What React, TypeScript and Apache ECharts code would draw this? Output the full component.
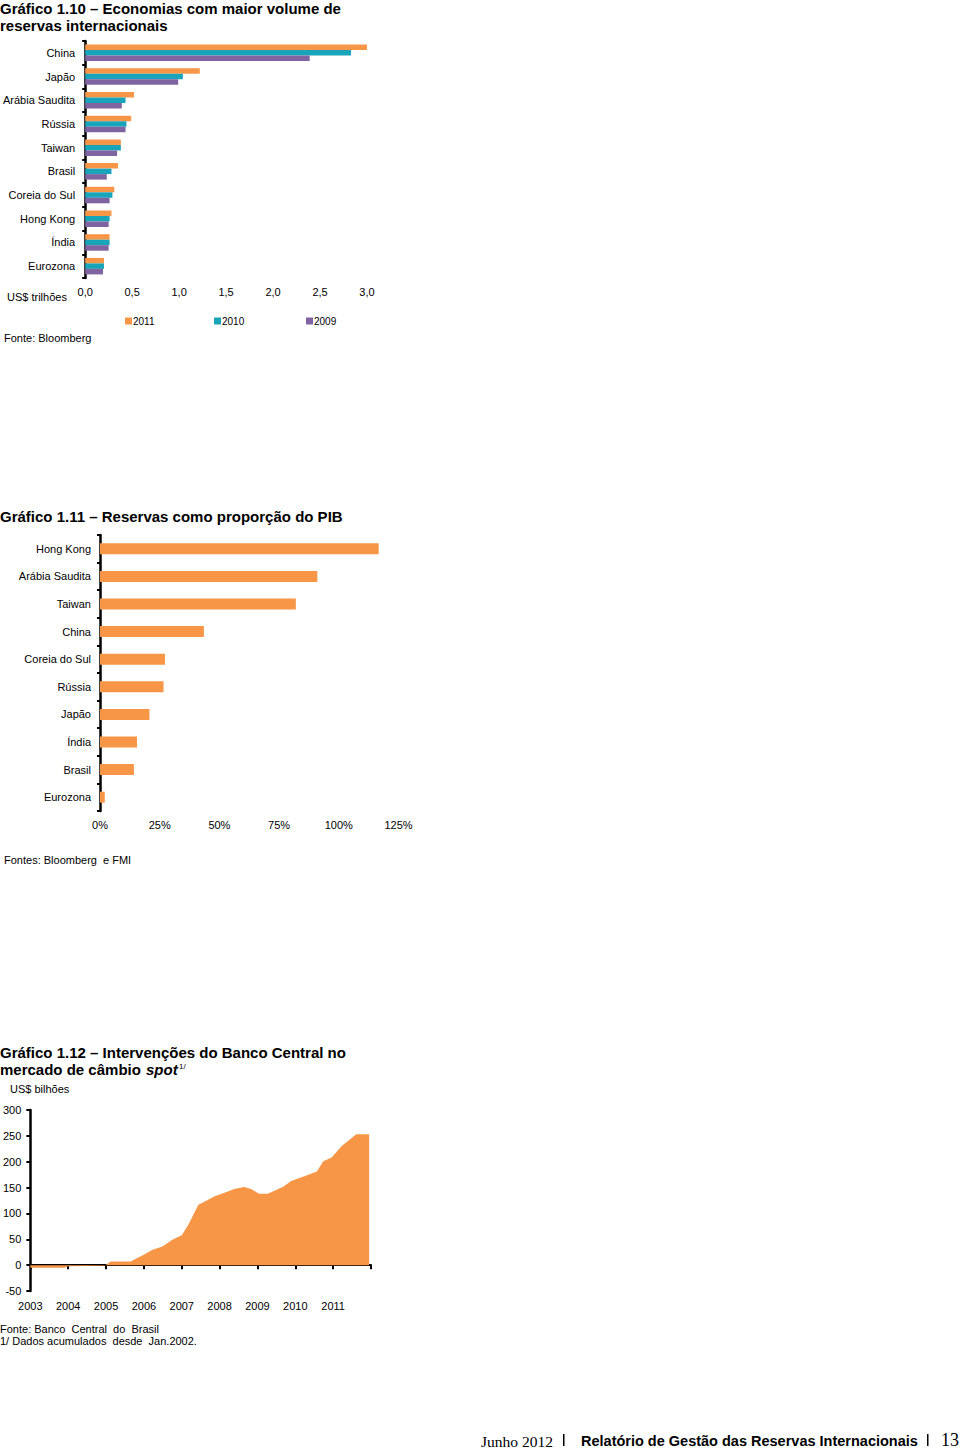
import { useEffect, useRef } from "react";
import * as echarts from "echarts";

// Gráfico 1.10 – reserves (US$ trillions)
const reserveCountries = ["China", "Japão", "Arábia Saudita", "Rússia", "Taiwan", "Brasil", "Coreia do Sul", "Hong Kong", "Índia", "Eurozona"];
const reserves2011 = [3.02, 1.22, 0.52, 0.49, 0.38, 0.35, 0.31, 0.28, 0.26, 0.2];
const reserves2010 = [2.83, 1.04, 0.43, 0.44, 0.38, 0.28, 0.29, 0.26, 0.26, 0.2];
const reserves2009 = [2.39, 0.99, 0.39, 0.43, 0.34, 0.23, 0.26, 0.25, 0.25, 0.19];
const reserveYears = ["2011", "2010", "2009"];

// Gráfico 1.11 – reserves as % of GDP
const gdpCountries = ["Hong Kong", "Arábia Saudita", "Taiwan", "China", "Coreia do Sul", "Rússia", "Japão", "Índia", "Brasil", "Eurozona"];
const gdpShare = [116.7, 91, 82, 43.5, 27.2, 26.6, 20.7, 15.5, 14.2, 2];

// Gráfico 1.12 – cumulative interventions (US$ billions)
const interventionDates = [2003.0, 2003.9, 2004.0, 2004.95, 2005.05, 2005.12, 2005.65, 2005.8, 2005.97, 2006.23, 2006.49, 2006.75, 2007.0, 2007.18, 2007.31, 2007.44, 2007.61, 2007.87, 2008.13, 2008.39, 2008.65, 2008.83, 2009.04, 2009.27, 2009.48, 2009.69, 2009.88, 2010.05, 2010.31, 2010.57, 2010.74, 2010.96, 2011.22, 2011.44, 2011.61, 2011.95];
const interventionValues = [-5, -5, -2, -1, 3, 7, 7, 13, 19, 30, 36, 49, 58, 79, 98, 117, 123, 133, 140, 147, 151, 147, 138, 138, 145, 152, 162, 167, 174, 181, 201, 208, 230, 243, 253, 253];
const yearTicks = ["2003", "2004", "2005", "2006", "2007", "2008", "2009", "2010", "2011"];

const ORANGE = "#F79646";
const TEAL = "#1AA4BA";
const PURPLE = "#8064A2";
const SANS = "'Liberation Sans', Arial, Helvetica, sans-serif";
const SERIF = "'Liberation Serif', 'Times New Roman', serif";

function txt(text: string, x: number, y: number, opts: any = {}) {
  return {
    type: "text",
    x,
    y,
    silent: true,
    style: {
      text,
      fontFamily: opts.fontFamily || SANS,
      fontSize: opts.fontSize || 11,
      fontWeight: opts.fontWeight || "normal",
      fontStyle: opts.fontStyle || "normal",
      fill: opts.fill || "#000",
      textAlign: opts.align || "left",
      align: opts.align || "left",
      textVerticalAlign: "middle",
      verticalAlign: "middle",
    },
  };
}

export default function App() {
  const ref = useRef<HTMLDivElement>(null);
  useEffect(() => {
    if (!ref.current) return;
    const chart = echarts.init(ref.current, undefined, { renderer: "svg" });
    const axisLabelStyle = { fontFamily: SANS, fontSize: 11, color: "#000" };
    const yearColors = [ORANGE, TEAL, PURPLE];
    const yearData = [reserves2011, reserves2010, reserves2009];

    const option: any = {
      animation: false,
      backgroundColor: "#fff",
      textStyle: { fontFamily: SANS },
      grid: [
        { left: 84, top: 41, width: 283, height: 237, containLabel: false },
        { left: 100, top: 535, width: 298.5, height: 276, containLabel: false },
        { left: 26, top: 1110, width: 345, height: 181, containLabel: false },
      ],
      xAxis: [
        {
          type: "value", gridIndex: 0, min: 0, max: 3, interval: 0.5,
          axisLine: { show: false }, axisTick: { show: false }, splitLine: { show: false },
          axisLabel: { ...axisLabelStyle, margin: 8, formatter: (v: number) => v.toFixed(1).replace(".", ",") },
        },
        {
          type: "value", gridIndex: 1, min: 0, max: 125, interval: 25,
          axisLine: { show: false }, axisTick: { show: false }, splitLine: { show: false },
          axisLabel: { ...axisLabelStyle, margin: 8, formatter: "{value}%" },
        },
        {
          type: "value", gridIndex: 2, min: 2003, max: 2012, interval: 1, position: "bottom",
          axisLine: { show: false, onZero: false }, axisTick: { show: false }, splitLine: { show: false },
          axisLabel: {
            ...axisLabelStyle, margin: 9,
            formatter: (v: number) => (yearTicks.indexOf(String(v)) >= 0 ? String(v) : ""),
          },
        },
        {
          type: "value", gridIndex: 2, min: 2003, max: 2012, interval: 1, position: "top",
          axisLine: { show: true, onZero: true, lineStyle: { color: "#000", width: 2 } },
          axisTick: { show: true, inside: true, length: 4, lineStyle: { color: "#000", width: 2 } },
          axisLabel: { show: false }, splitLine: { show: false },
        },
      ],
      yAxis: [
        {
          type: "category", gridIndex: 0, data: reserveCountries, inverse: true,
          axisLine: { show: true, lineStyle: { color: "#000", width: 2.5 } },
          axisTick: { show: true, length: 3, lineStyle: { color: "#000", width: 2 } },
          axisLabel: { ...axisLabelStyle, margin: 10 },
        },
        {
          type: "category", gridIndex: 1, data: gdpCountries, inverse: true,
          axisLine: { show: true, lineStyle: { color: "#000", width: 2.5 } },
          axisTick: { show: true, length: 3, lineStyle: { color: "#000", width: 2 } },
          axisLabel: { ...axisLabelStyle, margin: 9 },
        },
        {
          type: "value", gridIndex: 2, min: -50, max: 300, interval: 50,
          axisLine: { show: true, onZero: false, lineStyle: { color: "#000", width: 2.5 } },
          axisTick: { show: true, length: 4, lineStyle: { color: "#000", width: 2 } },
          splitLine: { show: false },
          axisLabel: { ...axisLabelStyle, margin: 9 },
        },
      ],
      legend: reserveYears.map((y, i) => ({
        data: [y],
        left: [125, 214, 306][i],
        top: 316,
        itemWidth: 7,
        itemHeight: 7,
        icon: "rect",
        padding: 0,
        textStyle: { fontFamily: SANS, fontSize: 10, color: "#000", padding: [0, 0, 0, -4] },
      })),
      series: [
        ...reserveYears.map((y, i) => ({
          name: y,
          type: "bar",
          xAxisIndex: 0,
          yAxisIndex: 0,
          data: yearData[i],
          barWidth: 5.5,
          barGap: "0%",
          itemStyle: { color: yearColors[i] },
        })),
        {
          name: "PIB",
          type: "bar",
          xAxisIndex: 1,
          yAxisIndex: 1,
          data: gdpShare,
          barWidth: 11,
          itemStyle: { color: ORANGE },
        },
        {
          name: "Intervenções",
          type: "line",
          xAxisIndex: 2,
          yAxisIndex: 2,
          data: interventionDates.map((d, i) => [d, interventionValues[i]]),
          showSymbol: false,
          symbol: "none",
          lineStyle: { width: 0 },
          areaStyle: { color: ORANGE, opacity: 1, origin: 0 },
          z: 1,
        },
      ],
      graphic: [
        txt("Gráfico 1.10 – Economias com maior volume de", 0, 8, { fontSize: 15, fontWeight: "bold" }),
        txt("reservas internacionais", 0, 25, { fontSize: 15, fontWeight: "bold" }),
        txt("US$ trilhões", 7, 297),
        txt("Fonte: Bloomberg", 4, 338),
        txt("Gráfico 1.11 – Reservas como proporção do PIB", 0, 516, { fontSize: 15, fontWeight: "bold" }),
        txt("Fontes: Bloomberg  e FMI", 4, 860),
        txt("Gráfico 1.12 – Intervenções do Banco Central no", 0, 1052, { fontSize: 15, fontWeight: "bold" }),
        txt("mercado de câmbio ", 0, 1069, { fontSize: 15, fontWeight: "bold" }),
        txt("spot", 146, 1069, { fontSize: 15, fontWeight: "bold", fontStyle: "italic" }),
        txt("1/", 179, 1066, { fontSize: 8 }),
        txt("US$ bilhões", 10, 1089),
        txt("Fonte: Banco  Central  do  Brasil", 0, 1329),
        txt("1/ Dados acumulados  desde  Jan.2002.", 0, 1341),
        txt("Junho 2012", 481, 1441, { fontFamily: SERIF, fontSize: 15.5 }),
        { type: "rect", shape: { x: 563, y: 1434, width: 1.5, height: 12 }, style: { fill: "#000" }, silent: true },
        txt("Relatório de Gestão das Reservas Internacionais", 581, 1441, { fontSize: 14.5, fontWeight: "bold" }),
        { type: "rect", shape: { x: 927, y: 1434, width: 1.5, height: 12 }, style: { fill: "#000" }, silent: true },
        txt("13", 941, 1440, { fontFamily: SERIF, fontSize: 18 }),
      ],
    };
    chart.setOption(option);
    return () => chart.dispose();
  }, []);
  return (
    <div
      ref={ref}
      style={{ position: "absolute", left: 0, top: 0, width: 960, height: 1449, background: "#fff" }}
    />
  );
}
